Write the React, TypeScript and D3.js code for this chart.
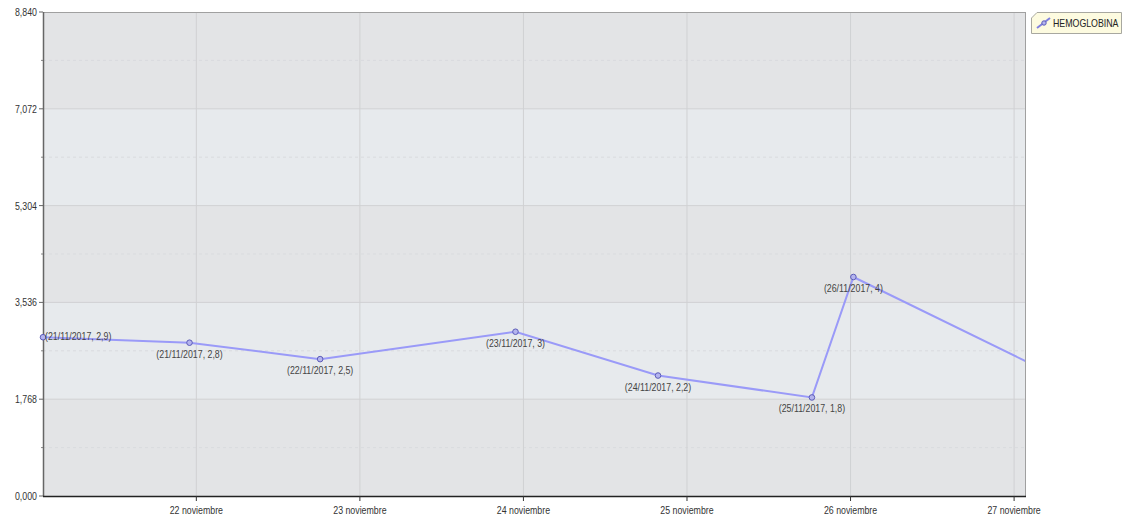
import * as d3 from "d3";
import { useEffect, useRef } from "react";

const times = [
  "2017-11-21T01:30",
  "2017-11-21T23:00",
  "2017-11-22T18:10",
  "2017-11-23T22:50",
  "2017-11-24T19:45",
  "2017-11-25T18:20",
  "2017-11-26T00:25",
  "2017-11-27T06:00",
];
const values = [2.9, 2.8, 2.5, 3, 2.2, 1.8, 4, 2.2];
const labels = [
  "(21/11/2017, 2,9)",
  "(21/11/2017, 2,8)",
  "(22/11/2017, 2,5)",
  "(23/11/2017, 3)",
  "(24/11/2017, 2,2)",
  "(25/11/2017, 1,8)",
  "(26/11/2017, 4)",
  "",
];
const yTicks = [0, 1.768, 3.536, 5.304, 7.072, 8.84];
const xTicks = ["2017-11-22", "2017-11-23", "2017-11-24", "2017-11-25", "2017-11-26", "2017-11-27"];
const seriesName = "HEMOGLOBINA";

const W = 1123;
const H = 517;
const font = "'Liberation Sans', Arial, sans-serif";
const SX = 0.8; // narrow the glyphs like the original's condensed face

function HemoChart() {
  const ref = useRef<SVGSVGElement>(null);

  useEffect(() => {
    const svg = d3.select(ref.current);
    svg.selectAll("*").remove();

    const left = 43, right = 1025, top = 12, bottom = 496;
    const parse = d3.timeParse("%Y-%m-%dT%H:%M");
    const parseDay = d3.timeParse("%Y-%m-%d");
    const pts = times.map((t, i) => ({ t: parse(t)!, v: values[i], label: labels[i] }));

    const x = d3.scaleTime()
      .domain([parse("2017-11-21T01:30")!, parse("2017-11-27T01:36")!])
      .range([left, right]);
    const y = d3.scaleLinear().domain([0, 8.84]).range([bottom, top]);

    const place = (px: number, py: number) => `translate(${px},${py}) scale(${SX},1)`;

    // alternating bands
    for (let i = 0; i < yTicks.length - 1; i++) {
      svg.append("rect")
        .attr("x", left).attr("width", right - left)
        .attr("y", y(yTicks[i + 1])).attr("height", y(yTicks[i]) - y(yTicks[i + 1]))
        .attr("fill", i % 2 === 0 ? "#e3e4e6" : "#e7eaed");
    }

    // minor dashed grid
    for (let i = 0; i < yTicks.length - 1; i++) {
      const m = (yTicks[i] + yTicks[i + 1]) / 2;
      svg.append("line")
        .attr("x1", left).attr("x2", right).attr("y1", y(m)).attr("y2", y(m))
        .attr("stroke", "#d9dbde").attr("stroke-dasharray", "3,3");
      svg.append("line")
        .attr("x1", left - 2).attr("x2", left).attr("y1", y(m)).attr("y2", y(m))
        .attr("stroke", "#888");
    }
    // major grid
    svg.append("g").selectAll("line").data(yTicks.slice(1, -1)).join("line")
      .attr("x1", left).attr("x2", right)
      .attr("y1", d => y(d)).attr("y2", d => y(d))
      .attr("stroke", "#d0d1d3");
    svg.append("g").selectAll("line").data(xTicks).join("line")
      .attr("x1", d => x(parseDay(d)!)).attr("x2", d => x(parseDay(d)!))
      .attr("y1", top).attr("y2", bottom)
      .attr("stroke", "#d0d1d3");

    // border
    svg.append("line").attr("x1", left).attr("x2", right).attr("y1", top + 0.5).attr("y2", top + 0.5)
      .attr("stroke", "#a0a0a0");
    svg.append("line").attr("x1", right + 0.5).attr("x2", right + 0.5).attr("y1", top).attr("y2", bottom)
      .attr("stroke", "#a0a0a0");

    // y axis
    const yAxis = svg.append("g");
    yAxis.append("line").attr("x1", left + 0.5).attr("x2", left + 0.5).attr("y1", top).attr("y2", bottom)
      .attr("stroke", "#666").attr("stroke-width", 1.5);
    yAxis.selectAll("line.t").data(yTicks).join("line").attr("class", "t")
      .attr("x1", left - 4).attr("x2", left).attr("y1", d => y(d)).attr("y2", d => y(d))
      .attr("stroke", "#666");
    yAxis.selectAll("text").data(yTicks).join("text")
      .attr("transform", d => place(left - 6, y(d) + 4))
      .attr("text-anchor", "end")
      .attr("font-family", font).attr("font-size", 11).attr("fill", "#333")
      .text(d => d3.format(".3f")(d).replace(".", ",").replace(/^(\d)(\d{3})/, "$1,$2"));

    // x axis
    const xAxis = svg.append("g");
    xAxis.append("line").attr("x1", left).attr("x2", right + 1).attr("y1", bottom + 0.5).attr("y2", bottom + 0.5)
      .attr("stroke", "#222").attr("stroke-width", 1.5);
    xAxis.selectAll("line.t").data(xTicks).join("line").attr("class", "t")
      .attr("x1", d => x(parseDay(d)!)).attr("x2", d => x(parseDay(d)!))
      .attr("y1", bottom).attr("y2", bottom + 5)
      .attr("stroke", "#333");
    xAxis.selectAll("text").data(xTicks).join("text")
      .attr("transform", d => place(x(parseDay(d)!), bottom + 18))
      .attr("text-anchor", "middle")
      .attr("font-family", font).attr("font-size", 11).attr("fill", "#333")
      .text(d => `${+d.slice(8)} noviembre`);

    // line + markers (clipped)
    svg.append("clipPath").attr("id", "plotclip")
      .append("rect").attr("x", left - 5).attr("y", top).attr("width", right - left + 5).attr("height", bottom - top);
    const g = svg.append("g").attr("clip-path", "url(#plotclip)");
    const line = d3.line<typeof pts[0]>().x(d => x(d.t)).y(d => y(d.v));
    g.append("path").datum(pts).attr("d", line)
      .attr("fill", "none").attr("stroke", "#9a9af8").attr("stroke-width", 2);
    g.selectAll("circle").data(pts).join("circle")
      .attr("cx", d => x(d.t)).attr("cy", d => y(d.v)).attr("r", 2.8)
      .attr("fill", "#b4b4ee").attr("stroke", "#5c5cb8").attr("stroke-width", 1);
    g.selectAll("text").data(pts.filter(d => d.label)).join("text")
      .attr("transform", (d, i) => (i === 0 ? place(x(d.t) + 2, y(d.v) + 3) : place(x(d.t), y(d.v) + 15)))
      .attr("text-anchor", (d, i) => (i === 0 ? "start" : "middle"))
      .attr("font-family", font).attr("font-size", 11).attr("fill", "#444")
      .text(d => d.label);

    // legend
    const lg = svg.append("g");
    lg.append("path")
      .attr("d", "M1031.5,18 L1037,12.5 L1121.5,12.5 L1121.5,33.5 L1031.5,33.5 Z")
      .attr("fill", "#fdfbe0").attr("stroke", "#a8a8a0");
    lg.append("line").attr("x1", 1037).attr("x2", 1050).attr("y1", 28).attr("y2", 18)
      .attr("stroke", "#8080e0").attr("stroke-width", 2);
    lg.append("circle").attr("cx", 1044).attr("cy", 23).attr("r", 2.2)
      .attr("fill", "#b4b4ee").attr("stroke", "#5c5cb8");
    lg.append("text").attr("transform", place(1053, 27))
      .attr("font-family", font).attr("font-size", 11).attr("fill", "#222")
      .text(seriesName);
  }, []);

  return <svg ref={ref} width={W} height={H} style={{ display: "block" }}></svg>;
}

export default function App() {
  return (
    <div style={{ position: "absolute", left: 0, top: 0 }}>
      <HemoChart />
    </div>
  );
}
